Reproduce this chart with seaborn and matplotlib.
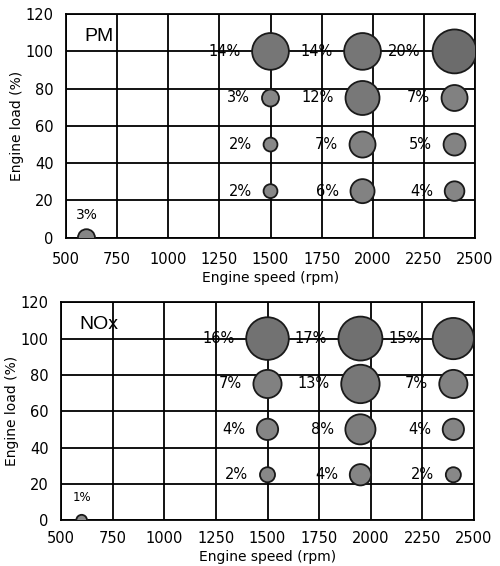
import matplotlib
matplotlib.use("Agg")
import matplotlib.pyplot as plt
import numpy as np
import pandas as pd
import seaborn as sns

# operating points (engine speed rpm, engine load %)
speed = [600, 1500, 1500, 1500, 1500, 1950, 1950, 1950, 1950, 2400, 2400, 2400, 2400]
load = [0, 25, 50, 75, 100, 25, 50, 75, 100, 25, 50, 75, 100]

# share of total emissions at each point (%)
pm_share = [3, 2, 2, 3, 14, 6, 7, 12, 14, 4, 5, 7, 20]
nox_share = [1, 2, 4, 7, 16, 4, 8, 13, 17, 2, 4, 7, 15]

x_ticks = [500, 750, 1000, 1250, 1500, 1750, 2000, 2250, 2500]
y_ticks = [0, 20, 40, 60, 80, 100, 120]

MAX_S = 1000  # marker area (pt^2) of the largest bubble in a panel


def bubble_panel(ax, share, title, xpad):
    df = pd.DataFrame({"speed": speed, "load": load, "share": share})
    vmax = max(share)
    sns.scatterplot(data=df, x="speed", y="load", size="share",
                    sizes=(0, MAX_S), size_norm=(0, vmax),
                    hue="share", palette="Greys", hue_norm=(-97, 83),
                    edgecolor="#1a1a1a", linewidth=1.3, legend=False,
                    ax=ax, zorder=3)

    for _, row in df.iterrows():
        r = np.sqrt(MAX_S * row.share / vmax) / 2
        label = f"{row.share:.0f}%"
        if row.load == 0:
            ax.annotate(label, (row.speed, row.load), xytext=(0, 16),
                        textcoords="offset points", ha="center", va="center",
                        fontsize=10 if row.share > 1 else 8.5, color="black")
        else:
            ax.annotate(label, (row.speed, row.load), xytext=(-(r + 8.5), 0),
                        textcoords="offset points", ha="right", va="center",
                        fontsize=10.5, color="black")

    ax.set_xlim(500, 2500)
    ax.set_ylim(0, 120)
    ax.set_xticks(x_ticks)
    ax.set_yticks(y_ticks)
    ax.grid(True, color="black", linewidth=1.3)
    ax.set_axisbelow(True)
    for sp in ax.spines.values():
        sp.set_color("black")
        sp.set_linewidth(1.3)
    ax.tick_params(length=0, labelsize=10.5, labelcolor="black")
    ax.tick_params(axis="x", pad=xpad)
    ax.tick_params(axis="y", pad=9)
    ax.set_xlabel("Engine speed (rpm)", fontsize=10, color="black", labelpad=3)
    ax.set_ylabel("Engine load (%)", fontsize=10, color="black", labelpad=1)
    ax.text(0.045, 0.9, title, transform=ax.transAxes, fontsize=14,
            family="Liberation Sans", va="center", ha="left", color="black")


sns.set_theme(style="white")
plt.rcParams["font.family"] = ["DejaVu Sans"]

fig = plt.figure(figsize=(5.0, 5.66), dpi=100)
ax1 = fig.add_axes([0.132, 0.580, 0.818, 0.395])
ax2 = fig.add_axes([0.122, 0.081, 0.826, 0.385])

bubble_panel(ax1, pm_share, "PM", 10)
bubble_panel(ax2, nox_share, "NOx", 8)

fig.savefig("out.png", dpi=100, facecolor="white")
